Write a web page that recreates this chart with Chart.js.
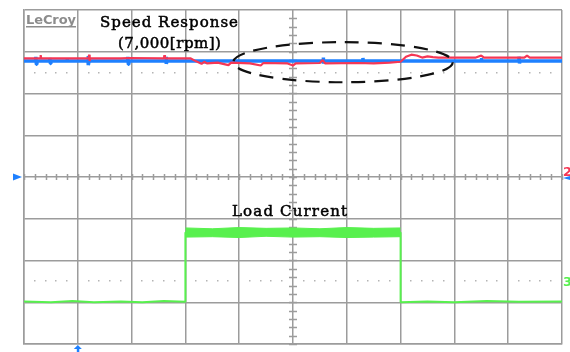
<!DOCTYPE html>
<html>
<head>
<meta charset="utf-8">
<script src="https://cdn.jsdelivr.net/npm/chart.js@4.4.1/dist/chart.umd.min.js"></script>
<style>
  html, body { margin: 0; padding: 0; background: #fff; }
  canvas { display: block; }
</style>
</head>
<body>
<canvas id="scope" width="570" height="352" style="width:570px;height:352px"></canvas>
<script>
// scope screen: 10 horizontal divisions, 8 vertical divisions (values in divisions)
const xDivs = [0, 10];
const yDivs = [-4, 4];
const dottedLevels = [2.5, -2.5];

// speed response, channel 1 (red) and channel 2 (blue)
const speedRed = [
  [0, 2.84], [0.3, 2.84], [0.31, 2.92], [0.32, 2.84], [1.2, 2.84], [1.21, 2.93], [1.22, 2.78], [1.23, 2.84],
  [1.8, 2.84], [1.95, 2.85], [2.6, 2.84], [2.61, 2.92], [2.62, 2.84], [3.1, 2.84], [3.2, 2.77], [3.3, 2.71],
  [3.35, 2.76], [3.4, 2.72], [3.6, 2.74], [3.8, 2.68], [3.85, 2.74], [4.2, 2.72], [4.4, 2.67], [4.45, 2.73],
  [4.9, 2.72], [5.0, 2.67], [5.05, 2.72], [5.5, 2.73], [5.55, 2.8], [5.6, 2.72], [6.2, 2.73], [6.5, 2.72],
  [6.8, 2.74], [7.0, 2.76], [7.1, 2.88], [7.2, 2.93], [7.3, 2.91], [7.4, 2.86], [7.5, 2.89], [7.6, 2.87],
  [7.7, 2.86], [8.4, 2.86], [8.5, 2.91], [8.55, 2.86], [9.3, 2.86], [9.35, 2.91], [9.4, 2.86], [10, 2.86]
];
const speedBlue = [
  [0, 2.78], [0.22, 2.78], [0.22, 2.88], [0.23, 2.7], [0.24, 2.78], [0.48, 2.78], [0.48, 2.85], [0.49, 2.72],
  [0.5, 2.78], [0.8, 2.78], [0.8, 2.84], [0.81, 2.78], [1.19, 2.78], [1.19, 2.9], [1.2, 2.68], [1.21, 2.78],
  [1.93, 2.78], [1.93, 2.88], [1.94, 2.7], [1.95, 2.78], [2.64, 2.78], [2.64, 2.88], [2.65, 2.71], [2.66, 2.78],
  [3.36, 2.78], [3.36, 2.72], [3.37, 2.78], [5.56, 2.78], [5.56, 2.86], [5.57, 2.72], [5.58, 2.78],
  [6.3, 2.78], [6.3, 2.85], [6.31, 2.72], [6.32, 2.78], [8.5, 2.78], [8.5, 2.85], [8.51, 2.78],
  [9.2, 2.78], [9.2, 2.88], [9.21, 2.72], [9.22, 2.78], [10, 2.78]
];

// load current, channel 3 (green): trace + noise envelope of the loaded part
const loadCurrent = [
  [0, -2.98], [0.5, -3.0], [0.9, -2.97], [1.3, -3.0], [1.8, -2.98], [2.2, -3.0], [2.6, -2.97], [3.0, -2.99],
  [3.0, -1.33], [7.0, -1.33], [7.0, -3.0], [7.5, -2.98], [8.0, -3.0], [8.6, -2.97], [9.2, -2.99], [10, -2.98]
];
const loadUpper = [[3.0, -1.22], [3.5, -1.24], [4.0, -1.21], [4.5, -1.23], [5.0, -1.22], [5.5, -1.24], [6.0, -1.21], [6.5, -1.23], [7.0, -1.22]];
const loadLower = [[3.0, -1.44], [3.5, -1.43], [4.0, -1.45], [4.5, -1.42], [5.0, -1.44], [5.5, -1.43], [6.0, -1.45], [6.5, -1.44], [7.0, -1.43]];

const GRID = '#9c9c9c';
const RED = 'rgb(245,55,85)';
const BLUE = 'rgb(30,128,255)';
const GREEN = 'rgb(88,240,78)';
const SERIF = '"DejaVu Serif", "Liberation Serif", serif';

const pts = arr => arr.map(([x, y]) => ({ x, y }));

// draw text stretched to a given width (the scope font is wide), optionally thickened
function spreadText (ctx, text, x, y, w, thick) {
  ctx.letterSpacing = '0px';
  const m = ctx.measureText(text).width;
  const sp = (w - m) / (text.length - 1);
  ctx.letterSpacing = sp.toFixed(2) + 'px';
  ctx.fillText(text, x, y);
  if (thick) {
    ctx.lineWidth = thick;
    ctx.strokeStyle = ctx.fillStyle;
    ctx.strokeText(text, x, y);
  }
  ctx.letterSpacing = '0px';
}

const scopeDecor = {
  id: 'scopeDecor',
  beforeDatasetsDraw (chart) {
    const { ctx, scales: { x, y } } = chart;
    const cx = x.getPixelForValue(5);
    const cy = y.getPixelForValue(0);
    ctx.save();
    ctx.strokeStyle = GRID;
    ctx.lineWidth = 1.5;
    ctx.beginPath();
    // minor ticks on the centre axes
    for (let v = yDivs[0]; v < yDivs[1]; v += 0.2) {
      const py = Math.round(y.getPixelForValue(v)) + 0.5;
      ctx.moveTo(cx - 4, py); ctx.lineTo(cx + 4, py);
    }
    for (let v = xDivs[0]; v < xDivs[1]; v += 0.2) {
      const px = Math.round(x.getPixelForValue(v)) + 0.5;
      ctx.moveTo(px, cy - 3); ctx.lineTo(px, cy + 3);
    }
    ctx.stroke();
    // dotted reference levels
    ctx.fillStyle = '#b4b4b4';
    dottedLevels.forEach(lv => {
      const py = y.getPixelForValue(lv);
      for (let d = 0; d < 10; d++) {
        for (let k = 1; k <= 4; k++) {
          const px = x.getPixelForValue(d + k * 0.2);
          ctx.fillRect(Math.round(px) - 1, Math.round(py) - 1, 1.5, 1.5);
        }
      }
    });
    ctx.restore();
  },
  afterDatasetsDraw (chart) {
    const { ctx, scales: { x, y }, chartArea } = chart;
    ctx.save();
    // LeCroy logo
    ctx.fillStyle = '#8c8c8c';
    ctx.font = 'bold 13px "DejaVu Sans", sans-serif';
    ctx.textBaseline = 'alphabetic';
    spreadText(ctx, 'LeCroy', 26, 24, 50);
    ctx.fillRect(26, 26, 50, 1.5);

    // titles
    ctx.fillStyle = '#000';
    ctx.font = '15px ' + SERIF;
    spreadText(ctx, 'Speed Response', 100, 27, 138, 0.5);
    spreadText(ctx, '(7,000[rpm])', 118, 48, 103, 0.5);
    spreadText(ctx, 'Load Current', 232, 216, 115, 0.5);

    // dashed ellipse round the speed traces
    ctx.strokeStyle = '#111';
    ctx.lineWidth = 2.2;
    ctx.setLineDash([14, 9]);
    const ex = x.getPixelForValue(5.93), ey = y.getPixelForValue(2.75);
    const rx = x.getPixelForValue(2.04) - x.getPixelForValue(0);
    const ry = y.getPixelForValue(0) - y.getPixelForValue(0.48);
    ctx.beginPath();
    ctx.ellipse(ex, ey, rx, ry, 0, 0, Math.PI * 2);
    ctx.stroke();
    ctx.setLineDash([]);

    // trigger level marker (left) and trigger position marker (bottom)
    const cy = y.getPixelForValue(0);
    ctx.fillStyle = BLUE;
    ctx.beginPath();
    ctx.moveTo(13, cy - 3.5); ctx.lineTo(22, cy); ctx.lineTo(13, cy + 3.5); ctx.closePath();
    ctx.fill();
    const tx = x.getPixelForValue(1);
    ctx.beginPath();
    ctx.moveTo(tx - 4, chartArea.bottom + 5); ctx.lineTo(tx, chartArea.bottom + 1); ctx.lineTo(tx + 4, chartArea.bottom + 5);
    ctx.closePath();
    ctx.fill();
    ctx.fillRect(tx - 1, chartArea.bottom + 4, 2.5, 5);

    // channel markers on the right edge
    ctx.font = 'bold 13px "DejaVu Sans", sans-serif';
    ctx.fillStyle = RED;
    ctx.fillText('2', chartArea.right + 1, cy - 1);
    ctx.fillStyle = BLUE;
    ctx.beginPath();
    ctx.moveTo(chartArea.right + 1, cy + 1); ctx.lineTo(chartArea.right + 8, cy - 1); ctx.lineTo(chartArea.right + 8, cy + 3);
    ctx.closePath(); ctx.fill();
    ctx.fillStyle = GREEN;
    ctx.fillText('3', chartArea.right + 1, y.getPixelForValue(-2.6));
    ctx.restore();
  }
};

new Chart(document.getElementById('scope'), {
  type: 'line',
  data: {
    datasets: [
      { data: pts(loadUpper), borderColor: GREEN, borderWidth: 1, backgroundColor: GREEN, fill: '+1', pointRadius: 0 },
      { data: pts(loadLower), borderColor: GREEN, borderWidth: 1, pointRadius: 0, fill: false },
      { data: pts(loadCurrent), borderColor: GREEN, borderWidth: 2, pointRadius: 0, fill: false },
      { data: pts(speedRed), borderColor: RED, borderWidth: 2.2, pointRadius: 0, fill: false },
      { data: pts(speedBlue), borderColor: BLUE, borderWidth: 3.5, pointRadius: 0, fill: false }
    ]
  },
  options: {
    responsive: false,
    devicePixelRatio: 1,
    animation: false,
    layout: { padding: { left: 24, top: 10, right: 8, bottom: 8 } },
    elements: { line: { tension: 0, borderJoinStyle: 'bevel' } },
    plugins: { legend: { display: false }, tooltip: { enabled: false } },
    scales: {
      x: {
        type: 'linear', min: xDivs[0], max: xDivs[1],
        ticks: { display: false, stepSize: 1 },
        grid: { color: GRID, lineWidth: 1.5, drawTicks: false },
        border: { display: true, color: GRID, width: 1.5 }
      },
      y: {
        type: 'linear', min: yDivs[0], max: yDivs[1],
        ticks: { display: false, stepSize: 1 },
        grid: { color: GRID, lineWidth: 1.5, drawTicks: false },
        border: { display: true, color: GRID, width: 1.5 }
      }
    }
  },
  plugins: [scopeDecor]
});
</script>
</body>
</html>
